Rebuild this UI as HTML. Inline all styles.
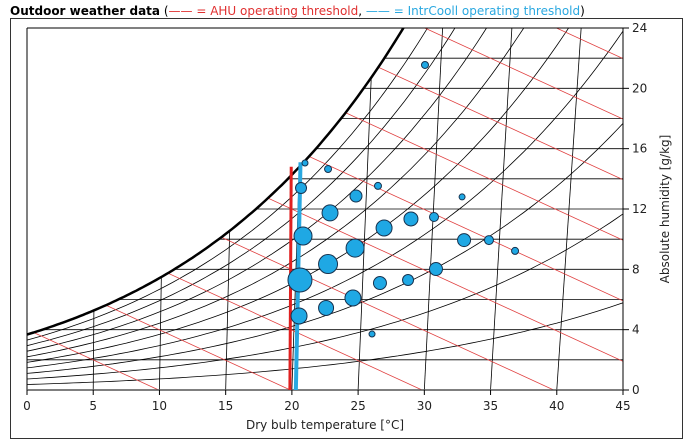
<!DOCTYPE html>
<html><head><meta charset="utf-8"><style>
body{margin:0;background:#fff;width:691px;height:443px;overflow:hidden;font-family:"Liberation Sans",sans-serif}
svg text{font-family:"DejaVu Sans","Liberation Sans",sans-serif}
</style></head><body>
<svg id="chart" width="691" height="443" xmlns="http://www.w3.org/2000/svg">
<rect x="10.5" y="18.5" width="672" height="420" fill="none" stroke="#333" stroke-width="1"/>
<text x="10" y="15" font-size="12"><tspan font-weight="bold" fill="#000">Outdoor weather data</tspan><tspan fill="#000"> (</tspan><tspan fill="#e03030">—— = AHU operating threshold</tspan><tspan fill="#000">, </tspan><tspan fill="#2aa8e0">—— = IntrCooll operating threshold</tspan><tspan fill="#000">)</tspan></text>
<defs><clipPath id="satclip"><path id="satpath" d=""/></clipPath><clipPath id="plotclip"><rect x="27" y="28" width="596" height="362"/></clipPath></defs>
<g id="grid" clip-path="url(#plotclip)"><g id="inner" clip-path="url(#satclip)"></g></g>
<g id="overlay"></g>
</svg>
<script>
const xTicks=[0,5,10,15,20,25,30,35,40,45];
const yTicks=[0,4,8,12,16,20,24];
const rhLevels=[10,20,30,40,50,60,70,80,90];
const enthalpyLevels=[10,20,30,40,50,60,70,80,90,100,110];
const humLines=[2,4,6,8,10,12,14,16,18,20,22];
const ahuThreshold=[19.85,14.8];
const coolThreshold=[20.3,15.1];
const temps=[20.99,22.73,20.69,26.50,24.84,32.85,22.88,28.99,30.73,26.96,20.84,33.00,34.88,36.85,24.77,22.73,20.61,30.88,28.77,26.65,24.61,22.58,20.54,26.05,30.05];
const hums=[15.05,14.65,13.39,13.53,12.86,12.80,11.74,11.34,11.47,10.74,10.21,9.94,9.94,9.22,9.41,8.35,7.29,8.02,7.29,7.09,6.10,5.44,4.91,3.71,21.55];
const weights=[3,3.5,5.5,3.5,6,3,8,7,4.5,8,9,6.5,4.5,3.5,9,9.5,12,6.5,5.5,6.5,8,7.5,8,3,3.5];

const X0=27,X1=623,Y0=390,Y1=28;
const sx=t=>X0+(t-0)/45*(X1-X0);
const sy=w=>Y0-(w-0)/24*(Y0-Y1);
const NS='http://www.w3.org/2000/svg';
const P=104;
const ps=t=>0.6112*Math.exp(17.62*t/(243.12+t));
const wAt=(t,phi)=>622*phi*ps(t)/(P-phi*ps(t));
function mk(tag,attrs,parent){const e=document.createElementNS(NS,tag);for(const k in attrs)e.setAttribute(k,attrs[k]);parent.appendChild(e);return e;}
const svg=document.getElementById('chart'),inner=document.getElementById('inner'),ov=document.getElementById('overlay');
let satPts=[];for(let t=0;t<=32;t+=0.25)satPts.push([sx(t),sy(wAt(t,1))]);
const satD='M'+satPts.map(p=>p[0].toFixed(1)+','+p[1].toFixed(1)).join('L');
document.getElementById('satpath').setAttribute('d',satD+`L${X1},${Y1-50}L${X1},${Y0}L${X0},${Y0}Z`);
humLines.forEach(w=>{const l=mk('line',{x1:X0,x2:X1,y1:sy(w),y2:sy(w),stroke:'#000','stroke-width':0.8},inner);

});
xTicks.slice(1,9).forEach(t=>{const l=mk('line',{x1:sx(t),y1:sy(0),x2:sx(t*1.046),y2:sy(24),stroke:'#000','stroke-width':0.8},inner);

});
rhLevels.forEach(r=>{let d='';for(let t=-2;t<=46;t+=0.5){d+=(d?'L':'M')+sx(t).toFixed(1)+','+sy(wAt(t,r/100)).toFixed(1);}
const p=mk('path',{d:d,fill:'none',stroke:'#000','stroke-width':0.8},inner);

});
enthalpyLevels.forEach(h=>{const wf=t=>(h-1.006*t)/(2.501+0.00186*t);
const p=mk('line',{x1:sx(-5),y1:sy(wf(-5)),x2:sx(h),y2:sy(wf(h)),stroke:'#e04040','stroke-width':0.8},inner);

});
const sc=mk('path',{d:satD,fill:'none',stroke:'#000','stroke-width':2.5,'clip-path':'url(#plotclip)'},ov);


const ax=mk('path',{d:`M${X0},${Y1}L${X0},${Y0}L${X1},${Y0}L${X1},${Y1}L${X0},${Y1}`,fill:'none',stroke:'#000','stroke-width':1},ov);


mk('line',{x1:X0,x2:X1,y1:Y0,y2:Y0,stroke:'#555','stroke-width':1.5},ov);
xTicks.forEach(t=>{mk('line',{x1:sx(t),x2:sx(t),y1:Y0,y2:Y0+5,stroke:'#000'},ov);
const tx=mk('text',{x:sx(t),y:Y0+20,'font-size':12,'text-anchor':'middle',fill:'#222'},ov);tx.textContent=t;

});
yTicks.forEach(w=>{mk('line',{x1:X1,x2:X1+6,y1:sy(w),y2:sy(w),stroke:'#000'},ov);
const tx=mk('text',{x:X1+9,y:sy(w)+4,'font-size':12,fill:'#222'},ov);tx.textContent=w;

});
const xt=mk('text',{x:(X0+X1)/2,y:429,'font-size':12,'text-anchor':'middle',fill:'#222'},ov);xt.textContent='Dry bulb temperature [°C]';


const yt=mk('text',{x:0,y:0,'font-size':12,'text-anchor':'middle',fill:'#222',transform:`translate(669,${(Y0+Y1)/2}) rotate(-90)`},ov);yt.textContent='Absolute humidity [g/kg]';


const ah=mk('line',{x1:sx(ahuThreshold[0]),x2:sx(ahuThreshold[0]+0.1),y1:sy(0),y2:sy(ahuThreshold[1]),stroke:'#e02020','stroke-width':3},ov);


const cl=mk('line',{x1:sx(coolThreshold[0]),x2:sx(coolThreshold[0]+0.35),y1:sy(0),y2:sy(coolThreshold[1]),stroke:'#29a8e0','stroke-width':4},ov);


temps.forEach((t,i)=>{const c=mk('circle',{cx:sx(t),cy:sy(hums[i]),r:weights[i],fill:'#1fa8e4',stroke:'#16324f','stroke-width':1},ov);

});
</script>
</body></html>
